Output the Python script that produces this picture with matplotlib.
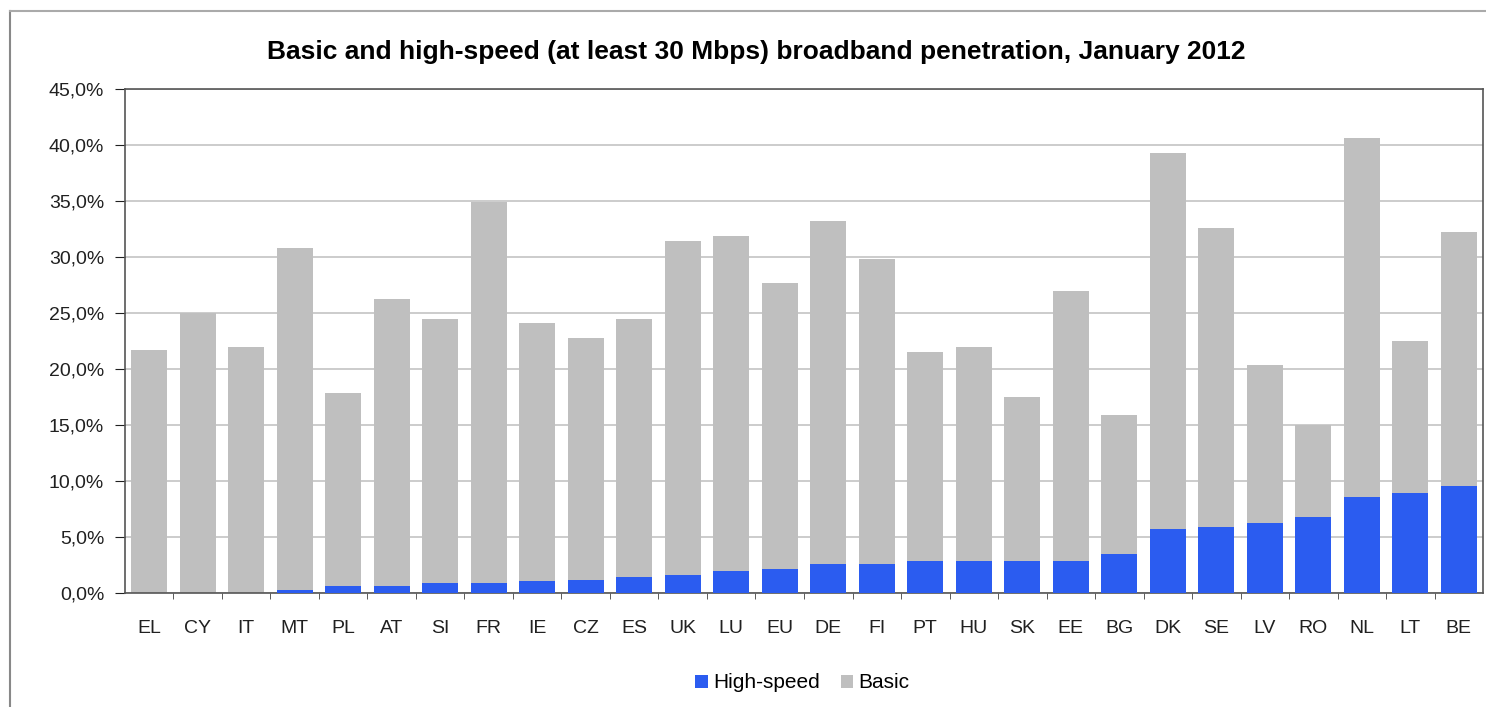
import numpy as np
import matplotlib.pyplot as plt
from matplotlib.lines import Line2D
from matplotlib.ticker import FuncFormatter, FixedLocator

plt.rcParams['font.family'] = ['Liberation Sans', 'DejaVu Sans']

countries = ['EL', 'CY', 'IT', 'MT', 'PL', 'AT', 'SI', 'FR', 'IE', 'CZ', 'ES', 'UK', 'LU', 'EU',
             'DE', 'FI', 'PT', 'HU', 'SK', 'EE', 'BG', 'DK', 'SE', 'LV', 'RO', 'NL', 'LT', 'BE']
basic = [21.7, 25.0, 22.0, 30.8, 17.9, 26.3, 24.5, 34.9, 24.1, 22.8, 24.5, 31.4, 31.9, 27.7,
         33.2, 29.8, 21.5, 22.0, 17.5, 27.0, 15.9, 39.3, 32.6, 20.4, 15.0, 40.6, 22.5, 32.2]
high_speed = [0.0, 0.0, 0.05, 0.3, 0.6, 0.6, 0.9, 0.9, 1.1, 1.2, 1.4, 1.6, 2.0, 2.2,
              2.6, 2.6, 2.9, 2.9, 2.9, 2.9, 3.5, 5.7, 5.9, 6.3, 6.8, 8.6, 8.9, 9.6]

grey = '#bfbfbf'
blue = '#2b5cf0'

fig = plt.figure(figsize=(14.86, 7.07), dpi=100)
ax = fig.add_axes([0.0841, 0.161, 0.9139, 0.713])

x = np.arange(len(countries))
ax.bar(x, basic, width=0.74, color=grey, label='Basic', zorder=2)
ax.bar(x, high_speed, width=0.74, color=blue, label='High-speed', zorder=3)

ax.set_xlim(-0.5, len(countries) - 0.5)
ax.set_ylim(0, 45)
ax.set_yticks(np.arange(0, 46, 5))
ax.yaxis.set_major_formatter(FuncFormatter(lambda v, p: ('%.1f%%' % v).replace('.', ',')))
ax.grid(axis='y', color='#c4c4c4', linewidth=1.2, zorder=0)

ax.set_xticks(x)
ax.set_xticklabels(countries)
ax.xaxis.set_minor_locator(FixedLocator(np.arange(0.5, len(countries) - 0.5, 1)))
ax.tick_params(axis='x', which='major', length=0, labelsize=14, pad=19, colors='#202020')
ax.tick_params(axis='x', which='minor', length=4, color='#404040', direction='out')
ax.tick_params(axis='y', length=7, labelsize=14, colors='#202020', pad=8)

for side in ['left', 'bottom', 'top', 'right']:
    ax.spines[side].set_color('#555555')
    ax.spines[side].set_linewidth(1.2)

ax.set_title('Basic and high-speed (at least 30 Mbps) broadband penetration, January 2012',
             fontsize=19, fontweight='bold', pad=22, x=0.465)

handles, labels = ax.get_legend_handles_labels()
fig.legend(handles[::-1], labels[::-1], loc='center', bbox_to_anchor=(0.54, 0.034),
           ncol=2, frameon=False, fontsize=15, handlelength=0.6, handleheight=0.6,
           handletextpad=0.25, columnspacing=1.0)

# outer chart frame (left and top edges visible)
fig.add_artist(Line2D([10 / 1486, 10 / 1486], [0, 1 - 11 / 707], color='#888888', linewidth=1.5))
fig.add_artist(Line2D([10 / 1486, 1], [1 - 11 / 707, 1 - 11 / 707], color='#aaaaaa', linewidth=1.5))

fig.savefig('out.png', dpi=100)
